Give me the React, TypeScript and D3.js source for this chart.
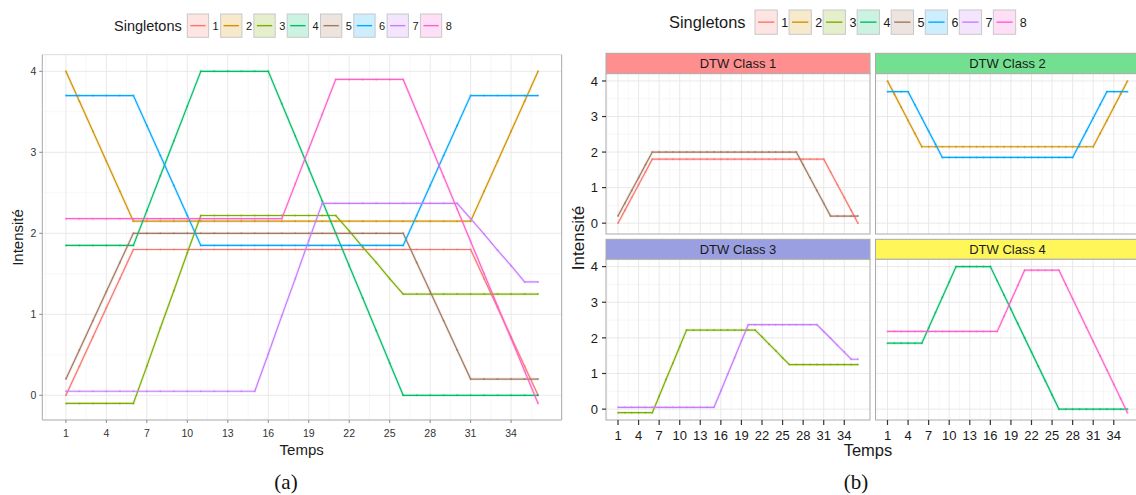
import React from 'react';
import * as d3 from 'd3';

const times = [1,2,3,4,5,6,7,8,9,10,11,12,13,14,15,16,17,18,19,20,21,22,23,24,25,26,27,28,29,30,31,32,33,34,35,36];
const xTicks = [1,4,7,10,13,16,19,22,25,28,31,34];
const yTicks = [0,1,2,3,4];
const seriesNames = ['1','2','3','4','5','6','7','8'];
const seriesColors = ['#F8766D','#D39200','#7CAE00','#00BE67','#A3785F','#00A9FF','#C77CFF','#FF61CC'];

const s1 = [0,0.36,0.72,1.08,1.44,1.8, 1.8,1.8,1.8,1.8,1.8,1.8,1.8,1.8,1.8,1.8,1.8,1.8,1.8,1.8,1.8,1.8,1.8,1.8,1.8,1.8,1.8,1.8,1.8,1.8,1.8, 1.44,1.08,0.72,0.36,0];
const s2 = [4,3.63,3.26,2.89,2.52,2.15, 2.15,2.15,2.15,2.15,2.15,2.15,2.15,2.15,2.15,2.15,2.15,2.15,2.15,2.15,2.15,2.15,2.15,2.15,2.15,2.15,2.15,2.15,2.15,2.15,2.15, 2.52,2.89,3.26,3.63,4];
const s3 = [-0.1,-0.1,-0.1,-0.1,-0.1,-0.1, 0.36,0.83,1.29,1.76,2.22, 2.22,2.22,2.22,2.22,2.22,2.22,2.22,2.22,2.22,2.22, 2.03,1.83,1.64,1.44,1.25, 1.25,1.25,1.25,1.25,1.25,1.25,1.25,1.25,1.25,1.25];
const s4 = [1.85,1.85,1.85,1.85,1.85,1.85, 2.28,2.71,3.14,3.57,4, 4,4,4,4,4, 3.6,3.2,2.8,2.4,2.0,1.6,1.2,0.8,0.4,0, 0,0,0,0,0,0,0,0,0,0];
const s5 = [0.2, 0.56,0.92,1.28,1.64,2.0, 2,2,2,2,2,2,2,2,2,2,2,2,2,2,2,2,2,2,2,2, 1.64,1.28,0.92,0.56,0.2, 0.2,0.2,0.2,0.2,0.2];
const s6 = [3.7,3.7,3.7,3.7,3.7,3.7, 3.33,2.96,2.59,2.22,1.85, 1.85,1.85,1.85,1.85,1.85,1.85,1.85,1.85,1.85,1.85,1.85,1.85,1.85,1.85,1.85, 2.22,2.59,2.96,3.33,3.7, 3.7,3.7,3.7,3.7,3.7];
const s7 = [0.05,0.05,0.05,0.05,0.05,0.05,0.05,0.05,0.05,0.05,0.05,0.05,0.05,0.05,0.05, 0.51,0.98,1.44,1.91,2.37, 2.37,2.37,2.37,2.37,2.37,2.37,2.37,2.37,2.37,2.37, 2.18,1.99,1.79,1.6,1.4, 1.4];
const s8 = [2.18,2.18,2.18,2.18,2.18,2.18,2.18,2.18,2.18,2.18,2.18,2.18,2.18,2.18,2.18,2.18,2.18, 2.61,3.04,3.47,3.9, 3.9,3.9,3.9,3.9,3.9, 3.5,3.1,2.7,2.3,1.9,1.5,1.1,0.7,0.3,-0.1];
// DTW-aligned versions shown in panel (b)
const s5Dtw = [0.2, 0.56,0.92,1.28,1.64,2.0, 2,2,2,2,2,2,2,2,2,2,2,2,2,2,2,2,2,2,2,2,2, 1.64,1.28,0.92,0.56,0.2, 0.2,0.2,0.2,0.2];
const s6Dtw = [3.7,3.7,3.7,3.7, 3.33,2.96,2.59,2.22,1.85, 1.85,1.85,1.85,1.85,1.85,1.85,1.85,1.85,1.85,1.85,1.85,1.85,1.85,1.85,1.85,1.85,1.85,1.85,1.85, 2.22,2.59,2.96,3.33,3.7, 3.7,3.7,3.7];

const allSeries = [s1, s2, s3, s4, s5, s6, s7, s8];
const classNames = ['DTW Class 1','DTW Class 2','DTW Class 3','DTW Class 4'];
const classColors = ['#FF8F8F','#72E090','#9A9FE2','#FFF65A'];
const classMembers = [[0, 4], [1, 5], [2, 6], [3, 7]];
const dtwSeries = [s1, s2, s3, s4, s5Dtw, s6Dtw, s7, s8];

const FONT = '"Liberation Sans", Arial, Helvetica, sans-serif';
const xDomain = [-0.75, 37.75];
const yDomain = [-0.305, 4.205];

function minorTicks(t: number[]) {
  const out: number[] = [];
  for (let i = 0; i < t.length - 1; i++) out.push((t[i] + t[i + 1]) / 2);
  return out;
}

function Grid({ x, y }: { x: any; y: any }) {
  const [x0, x1] = x.range();
  const [y0, y1] = y.range();
  const mx = [xTicks[0] - 1.5, ...minorTicks(xTicks), xTicks[xTicks.length - 1] + 1.5];
  const my = [...minorTicks(yTicks)];
  return (
    <g>
      {mx.map((v, i) => <line key={'mx' + i} x1={x(v)} x2={x(v)} y1={y0} y2={y1} stroke="#f4f4f4" strokeWidth={0.7} />)}
      {my.map((v, i) => <line key={'my' + i} y1={y(v)} y2={y(v)} x1={x0} x2={x1} stroke="#f4f4f4" strokeWidth={0.7} />)}
      {xTicks.map((v, i) => <line key={'gx' + i} x1={x(v)} x2={x(v)} y1={y0} y2={y1} stroke="#e6e6e6" strokeWidth={0.9} />)}
      {yTicks.map((v, i) => <line key={'gy' + i} y1={y(v)} y2={y(v)} x1={x0} x2={x1} stroke="#e6e6e6" strokeWidth={0.9} />)}
    </g>
  );
}

function Lines({ x, y, idx, data }: { x: any; y: any; idx: number[]; data: number[][] }) {
  const line = d3.line<number>().x((_, i) => x(times[i])).y((d) => y(d));
  return (
    <g>
      {idx.map((k) => (
        <g key={k}>
          <path d={line(data[k]) || ''} fill="none" stroke={seriesColors[k]} strokeWidth={3} strokeOpacity={0.15} />
          <path d={line(data[k]) || ''} fill="none" stroke={seriesColors[k]} strokeWidth={1.2} />
          {data[k].map((v, i) => (
            <circle key={i} cx={x(times[i])} cy={y(v)} r={1} fill={seriesColors[k]} opacity={0.7} />
          ))}
        </g>
      ))}
    </g>
  );
}

function Legend({ x0, y0, boxW, boxH, step, titleSize, labelSize, titleX }: any) {
  return (
    <g fontFamily={FONT}>
      <text x={titleX} y={y0 + boxH / 2} dy="0.36em" fontSize={titleSize} fill="#1a1a1a">Singletons</text>
      {seriesNames.map((n, i) => {
        const bx = x0 + i * step;
        return (
          <g key={n}>
            <rect x={bx} y={y0} width={boxW} height={boxH} fill={seriesColors[i]} fillOpacity={0.2} stroke="#c8c8c8" strokeWidth={1} />
            <line x1={bx + 3} x2={bx + boxW - 3} y1={y0 + boxH / 2} y2={y0 + boxH / 2} stroke={seriesColors[i]} strokeWidth={1.4} />
            <text x={bx + boxW + 4} y={y0 + boxH / 2} dy="0.36em" fontSize={labelSize} fill="#1a1a1a">{n}</text>
          </g>
        );
      })}
    </g>
  );
}

function LeftChart() {
  const x = d3.scaleLinear().domain(xDomain).range([42.3, 561.7]);
  const y = d3.scaleLinear().domain(yDomain).range([420, 54.7]);
  const [xa, xb] = x.range();
  const [yb, ya] = y.range();
  return (
    <g>
      <Legend x0={187.3} y0={14} boxW={21.3} boxH={23.3} step={33.3} titleSize={14.5} labelSize={11} titleX={114} />
      <rect x={xa} y={ya} width={xb - xa} height={yb - ya} fill="#fff" />
      <Grid x={x} y={y} />
      <Lines x={x} y={y} idx={[0, 1, 2, 3, 4, 5, 6, 7]} data={allSeries} />
      <line x1={xa} x2={xb} y1={ya} y2={ya} stroke="#dcdcdc" strokeWidth={1} />
      <line x1={xa} x2={xa} y1={ya} y2={yb} stroke="#a8a8a8" strokeWidth={1} />
      <line x1={xb} x2={xb} y1={ya} y2={yb} stroke="#a8a8a8" strokeWidth={1} />
      <line x1={xa} x2={xb} y1={yb} y2={yb} stroke="#a8a8a8" strokeWidth={1} />
      <g fontFamily={FONT} fontSize={10.5} fill="#333">
        {xTicks.map((v) => (
          <g key={v}>
            <line x1={x(v)} x2={x(v)} y1={yb} y2={yb + 3} stroke="#888" />
            <text x={x(v)} y={yb + 13} textAnchor="middle" dy="0.36em">{v}</text>
          </g>
        ))}
        {yTicks.map((v) => (
          <g key={v}>
            <line x1={xa - 3} x2={xa} y1={y(v)} y2={y(v)} stroke="#888" />
            <text x={xa - 6} y={y(v)} textAnchor="end" dy="0.36em">{v}</text>
          </g>
        ))}
      </g>
      <text x={301.7} y={449.5} textAnchor="middle" dy="0.36em" fontFamily={FONT} fontSize={15} fill="#1a1a1a">Temps</text>
      <text transform="translate(18,237.5) rotate(-90)" textAnchor="middle" dy="0.36em" fontFamily={FONT} fontSize={15} fill="#1a1a1a">Intensité</text>
      <text x={286} y={481} textAnchor="middle" dy="0.36em" fontFamily='"Liberation Serif", "DejaVu Serif", serif' fontSize={21} fill="#111">(a)</text>
    </g>
  );
}

function RightChart() {
  const cols = [[606, 870], [875.5, 1139.5]];
  const rows = [{ strip: [53.3, 73.7], panel: [73.7, 234] }, { strip: [239.3, 259.3], panel: [259.3, 420] }];
  return (
    <g>
      <Legend x0={755} y0={10} boxW={22.3} boxH={24.3} step={34.05} titleSize={16.4} labelSize={12.5} titleX={669} />
      {classNames.map((name, c) => {
        const col = c % 2;
        const row = Math.floor(c / 2);
        const x = d3.scaleLinear().domain(xDomain).range(cols[col]);
        const y = d3.scaleLinear().domain(yDomain).range([rows[row].panel[1], rows[row].panel[0]]);
        const [xa, xb] = cols[col];
        const [sa, sb] = rows[row].strip;
        const [ya, yb] = rows[row].panel;
        return (
          <g key={name}>
            <rect x={xa} y={sa} width={xb - xa} height={sb - sa} fill={classColors[c]} stroke="#aaa" strokeWidth={1} />
            <text x={(xa + xb) / 2} y={(sa + sb) / 2} dy="0.36em" textAnchor="middle" fontFamily={FONT} fontSize={13} fill="#1a1a1a">{name}</text>
            <rect x={xa} y={ya} width={xb - xa} height={yb - ya} fill="#fff" />
            <Grid x={x} y={y} />
            <Lines x={x} y={y} idx={classMembers[c]} data={dtwSeries} />
            <rect x={xa} y={ya} width={xb - xa} height={yb - ya} fill="none" stroke="#aaa" strokeWidth={1} />
            {row === 1 && (
              <g fontFamily={FONT} fontSize={13} fill="#1a1a1a">
                {xTicks.map((v) => (
                  <g key={v}>
                    <line x1={x(v)} x2={x(v)} y1={yb} y2={yb + 5} stroke="#333" strokeWidth={1.2} />
                    <text x={x(v)} y={yb + 15.5} textAnchor="middle" dy="0.36em">{v}</text>
                  </g>
                ))}
              </g>
            )}
            {col === 0 && (
              <g fontFamily={FONT} fontSize={13} fill="#1a1a1a">
                {yTicks.map((v) => (
                  <g key={v}>
                    <line x1={xa - 4} x2={xa} y1={y(v)} y2={y(v)} stroke="#333" strokeWidth={1.2} />
                    <text x={xa - 8} y={y(v)} textAnchor="end" dy="0.36em">{v}</text>
                  </g>
                ))}
              </g>
            )}
          </g>
        );
      })}
      <text x={868} y={450.5} textAnchor="middle" dy="0.36em" fontFamily={FONT} fontSize={16.5} fill="#1a1a1a">Temps</text>
      <text transform="translate(578,238) rotate(-90)" textAnchor="middle" dy="0.36em" fontFamily={FONT} fontSize={17} fill="#1a1a1a">Intensité</text>
      <text x={856} y={481} textAnchor="middle" dy="0.36em" fontFamily='"Liberation Serif", "DejaVu Serif", serif' fontSize={21} fill="#111">(b)</text>
    </g>
  );
}

export default function App() {
  return (
    <svg width={1136} height={495} style={{ position: 'absolute', left: 0, top: 0, background: '#fff' }}>
      <rect x={0} y={0} width={1136} height={495} fill="#fff" />
      <LeftChart />
      <RightChart />
    </svg>
  );
}
